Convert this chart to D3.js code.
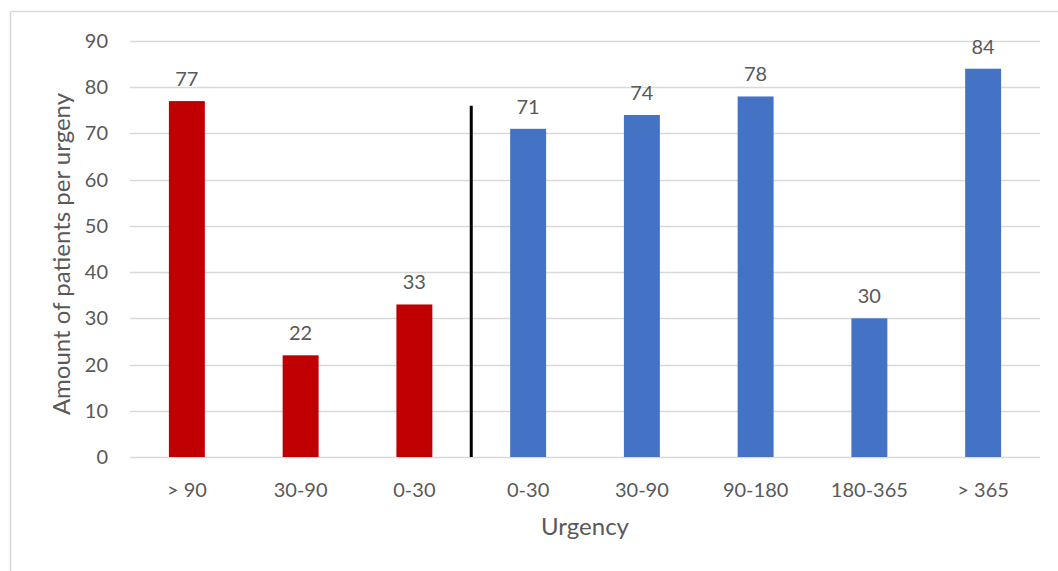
<!DOCTYPE html>
<html>
<head>
<meta charset="utf-8">
<script src="https://cdn.jsdelivr.net/npm/d3@7"></script>
<style>
  body { margin: 0; background: #fff; overflow: hidden; }
  svg { display: block; }
  text { font-family: Lato, "Open Sans", sans-serif; fill: #595959; }
</style>
</head>
<body>
<div id="chart"></div>
<script>
const categories = ['> 90', '30-90', '0-30', '0-30', '30-90', '90-180', '180-365', '> 365'];
const values = [77, 22, 33, 71, 74, 78, 30, 84];
const groups = ['red', 'red', 'red', 'blue', 'blue', 'blue', 'blue', 'blue'];
const yTicks = [0, 10, 20, 30, 40, 50, 60, 70, 80, 90];
const dividerValue = 76;

const colors = { red: '#C00000', blue: '#4472C4' };
const width = 1058;
const height = 571;
const margin = { top: 41, right: 18, bottom: 114, left: 130 };
const innerWidth = width - margin.left - margin.right;
const innerHeight = height - margin.top - margin.bottom;

const data = values.map((v, i) => ({ i, label: categories[i], value: v, group: groups[i] }));

const svg = d3.select('#chart')
  .append('svg')
  .attr('width', width)
  .attr('height', height);

// chart frame: only the top and left edges are inside the picture
svg.append('line')
  .attr('x1', 10.5).attr('x2', width)
  .attr('y1', 11.5).attr('y2', 11.5)
  .attr('stroke', '#D9D9D9')
  .attr('stroke-width', 1.5);
svg.append('line')
  .attr('x1', 10.5).attr('x2', 10.5)
  .attr('y1', 11.5).attr('y2', height)
  .attr('stroke', '#D9D9D9')
  .attr('stroke-width', 1.5);

const g = svg.append('g')
  .attr('transform', `translate(${margin.left},${margin.top})`);

const xScale = d3.scaleBand()
  .domain(data.map((d) => d.i))
  .range([0, innerWidth])
  .paddingInner(0.684)
  .paddingOuter(0.342);
const yScale = d3.scaleLinear().domain([0, 90]).range([innerHeight, 0]);

// gridlines
g.selectAll('.grid')
  .data(yTicks)
  .enter()
  .append('line')
  .attr('x1', 0)
  .attr('x2', innerWidth)
  .attr('y1', (d) => Math.round(yScale(d)) + 0.5)
  .attr('y2', (d) => Math.round(yScale(d)) + 0.5)
  .attr('stroke', '#D9D9D9')
  .attr('stroke-width', 1.5);

// y tick labels
g.selectAll('.ytick')
  .data(yTicks)
  .enter()
  .append('text')
  .attr('x', -22)
  .attr('y', (d) => yScale(d) + 7)
  .attr('text-anchor', 'end')
  .attr('font-size', '20px')
  .text((d) => d);

// bars
g.selectAll('.bar')
  .data(data)
  .enter()
  .append('rect')
  .attr('x', (d) => xScale(d.i))
  .attr('y', (d) => yScale(d.value))
  .attr('width', xScale.bandwidth())
  .attr('height', (d) => innerHeight - yScale(d.value))
  .attr('fill', (d) => colors[d.group]);

// value labels
g.selectAll('.val')
  .data(data)
  .enter()
  .append('text')
  .attr('x', (d) => xScale(d.i) + xScale.bandwidth() / 2)
  .attr('y', (d) => yScale(d.value) - 15)
  .attr('text-anchor', 'middle')
  .attr('font-size', '20px')
  .attr('fill', '#404040')
  .text((d) => d.value);

// x labels
g.selectAll('.xlab')
  .data(data)
  .enter()
  .append('text')
  .attr('x', (d) => xScale(d.i) + xScale.bandwidth() / 2)
  .attr('y', innerHeight + 40)
  .attr('text-anchor', 'middle')
  .attr('font-size', '20px')
  .text((d) => d.label);

// divider between the two groups
const dividerX = xScale(3) - xScale.step() * xScale.paddingInner() / 2;
g.append('line')
  .attr('x1', dividerX)
  .attr('x2', dividerX)
  .attr('y1', yScale(dividerValue))
  .attr('y2', innerHeight)
  .attr('stroke', '#000')
  .attr('stroke-width', 3);

// axis titles
svg.append('text')
  .attr('x', margin.left + innerWidth / 2)
  .attr('y', 535)
  .attr('text-anchor', 'middle')
  .attr('font-size', '24px')
  .text('Urgency');

svg.append('text')
  .attr('transform', `translate(70,${margin.top + innerHeight / 2 + 5}) rotate(-90)`)
  .attr('text-anchor', 'middle')
  .attr('font-size', '24px')
  .text('Amount of patients per urgeny');
</script>
</body>
</html>
